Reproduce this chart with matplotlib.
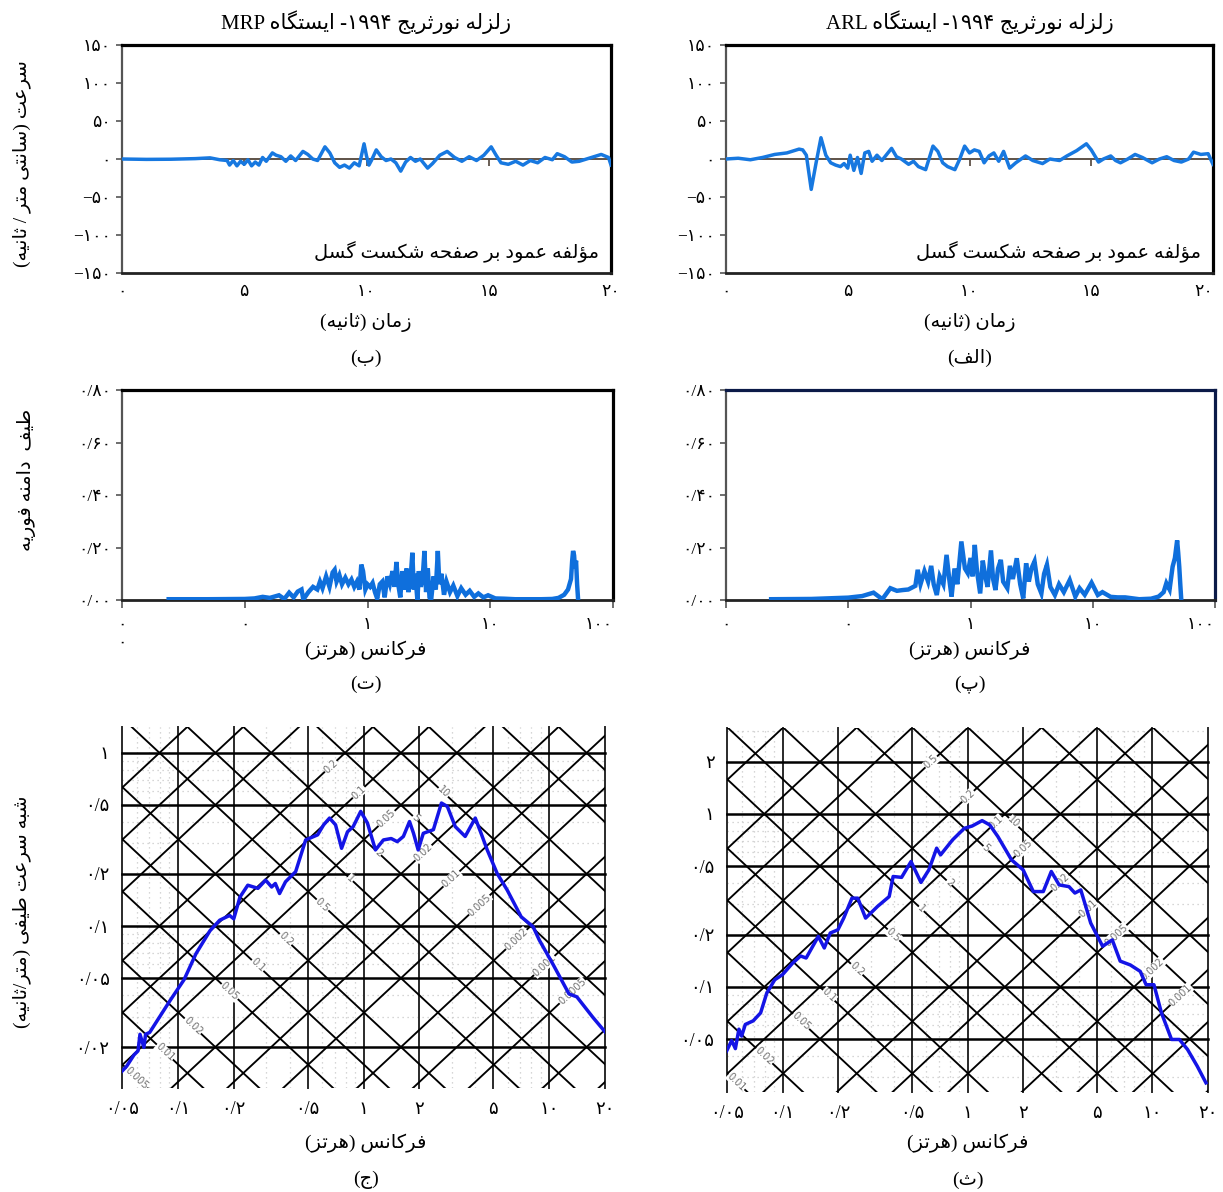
import re
import numpy as np
import matplotlib
matplotlib.use('Agg')
import matplotlib.pyplot as plt
from matplotlib.ticker import NullLocator

# ---------------- data ----------------
vel_t_mrp = [0, 1, 2, 3, 3.6, 4.0, 4.3, 4.4, 4.55, 4.7,
             4.85, 5.0, 5.15, 5.3, 5.45, 5.6, 5.75, 5.9, 6.15, 6.3,
             6.5, 6.7, 6.9, 7.1, 7.4, 7.6, 7.8, 8.0, 8.3, 8.5,
             8.7, 8.9, 9.1, 9.3, 9.5, 9.7, 9.9, 10.0, 10.1, 10.2,
             10.4, 10.6, 10.8, 11.0, 11.2, 11.4, 11.6, 11.8, 12.0, 12.2,
             12.5, 12.7, 13.0, 13.3, 13.6, 13.9, 14.2, 14.5, 14.8, 15.1,
             15.3, 15.5, 15.8, 16.1, 16.4, 16.7, 17.0, 17.3, 17.6, 17.8,
             18.1, 18.4, 18.7, 19.0, 19.3, 19.6, 19.9, 20.0]
vel_v_mrp = [0, -0.5, -0.3, 0.5, 1.5, -1, -2, -8, -2, -9,
             -3, -7, -1, -9, -4, -8, 2, -3, 8, 5,
             3, -3, 4, -2, 10, 6, 0, -2, 16, 8,
             -5, -11, -8, -12, -5, -9, 20, 4, -8, -2,
             12, 3, -2, 0, -5, -16, -4, 2, -3, 0,
             -12, -6, 5, 10, 2, -3, 3, -2, 5, 16,
             5, -5, -7, -3, -8, -2, -5, 2, -1, 7,
             3, -4, -3, 0, 3, 6, 2, -8]

vel_t_arl = [0, 0.5, 1.0, 1.5, 2.0, 2.5, 3.0, 3.15, 3.3, 3.5,
             3.7, 3.9, 4.1, 4.3, 4.5, 4.7, 4.85, 5.0, 5.1, 5.25,
             5.4, 5.55, 5.7, 5.86, 6.0, 6.2, 6.4, 6.6, 6.8, 7.0,
             7.2, 7.5, 7.7, 7.9, 8.2, 8.5, 8.7, 8.9, 9.1, 9.4,
             9.6, 9.8, 10.0, 10.2, 10.4, 10.6, 10.8, 11.0, 11.2, 11.4,
             11.65, 11.9, 12.3, 12.6, 13.0, 13.3, 13.7, 14.0, 14.4, 14.8,
             15.0, 15.3, 15.5, 15.8, 16.0, 16.2, 16.5, 16.8, 17.1, 17.5,
             17.8, 18.1, 18.4, 18.7, 19.0, 19.2, 19.5, 19.8, 20.0]
vel_v_arl = [0, 1, -1, 2, 6, 8, 13, 12, 5, -40,
             -5, 28, 5, -5, -8, -10, -6, -12, 5, -15,
             2, -19, 8, 10, -3, 5, -2, 6, 14, 3,
             0, -7, -3, -10, -14, 17, 10, -5, -10, -14,
             0, 17, 8, 12, 10, -5, 4, 8, -3, 10,
             -12, -5, 4, -2, -6, 0, -2, 4, 11, 20,
             12, -4, 0, 4, -2, -5, 0, 6, 2, -5,
             0, 3, -2, -4, 0, 9, 6, 7, -7]

fas_f_mrp = [0.024, 0.05, 0.1, 0.12, 0.14, 0.16, 0.19, 0.21, 0.23, 0.25,
             0.27, 0.29, 0.30, 0.33, 0.36, 0.39, 0.41, 0.43, 0.46, 0.49,
             0.52, 0.54, 0.56, 0.59, 0.62, 0.66, 0.70, 0.74, 0.78, 0.82,
             0.86, 0.89, 0.92, 0.96, 1.00, 1.05, 1.10, 1.15, 1.20, 1.26,
             1.32, 1.38, 1.45, 1.52, 1.60, 1.66, 1.72, 1.78, 1.85, 1.92,
             2.00, 2.08, 2.15, 2.25, 2.32, 2.38, 2.45, 2.55, 2.62, 2.72,
             2.82, 2.91, 3.00, 3.10, 3.20, 3.30, 3.45, 3.60, 3.74, 3.85,
             4.00, 4.20, 4.40, 4.70, 5.00, 5.40, 5.80, 6.30, 6.80, 7.40,
             8.00, 8.80, 9.60, 11.0, 13.0, 16.0, 20.0, 26.0, 32.0, 36.0,
             40.0, 43.0, 45.5, 46.5, 47.3, 48.2, 49.0, 50.0, 51.0, 52.0]
fas_a_mrp = [0.003, 0.003, 0.004, 0.006, 0.012, 0.008, 0.018, 0.004, 0.028, 0.010,
             0.032, 0.040, 0.002, 0.030, 0.050, 0.040, 0.070, 0.045, 0.090, 0.050,
             0.105, 0.115, 0.070, 0.095, 0.060, 0.085, 0.060, 0.078, 0.050, 0.070,
             0.040, 0.135, 0.110, 0.040, 0.060, 0.050, 0.065, 0.030, 0.005, 0.060,
             0.070, 0.010, 0.090, 0.060, 0.110, 0.050, 0.145, 0.060, 0.010, 0.110,
             0.040, 0.120, 0.030, 0.090, 0.180, 0.040, 0.100, 0.000, 0.110, 0.050,
             0.090, 0.187, 0.030, 0.120, 0.010, 0.000, 0.090, 0.040, 0.187, 0.060,
             0.100, 0.020, 0.070, 0.030, 0.055, 0.015, 0.045, 0.020, 0.035, 0.012,
             0.025, 0.010, 0.018, 0.006, 0.005, 0.003, 0.003, 0.003, 0.004, 0.008,
             0.020, 0.040, 0.080, 0.150, 0.187, 0.170, 0.120, 0.150, 0.060, 0.000]

fas_f_arl = [0.0234, 0.05, 0.1, 0.13, 0.161, 0.19, 0.221, 0.25, 0.28, 0.31,
             0.354, 0.37, 0.39, 0.42, 0.45, 0.477, 0.50, 0.53, 0.56, 0.60,
             0.637, 0.67, 0.70, 0.74, 0.78, 0.842, 0.90, 0.95, 1.00, 1.04,
             1.084, 1.13, 1.20, 1.26, 1.32, 1.38, 1.47, 1.53, 1.60, 1.68,
             1.77, 1.85, 2.00, 2.10, 2.22, 2.39, 2.55, 2.70, 2.85, 3.00,
             3.15, 3.34, 3.55, 3.80, 4.00, 4.22, 4.50, 4.90, 5.30, 5.80,
             6.48, 7.20, 7.80, 8.60, 9.78, 11.0, 12.0, 14.0, 16.0, 18.4,
             24.0, 30.0, 34.6, 38.0, 40.0, 42.5, 45.0, 47.0, 49.0, 50.0,
             51.0, 52.0, 53.0]
fas_a_arl = [0.003, 0.004, 0.009, 0.015, 0.028, 0.003, 0.045, 0.035, 0.038, 0.040,
             0.054, 0.115, 0.060, 0.110, 0.070, 0.130, 0.060, 0.019, 0.090, 0.060,
             0.172, 0.080, 0.013, 0.120, 0.060, 0.223, 0.120, 0.102, 0.160, 0.090,
             0.210, 0.110, 0.025, 0.150, 0.090, 0.050, 0.189, 0.080, 0.038, 0.120,
             0.153, 0.070, 0.045, 0.130, 0.080, 0.159, 0.060, 0.006, 0.140, 0.070,
             0.120, 0.147, 0.060, 0.025, 0.100, 0.134, 0.050, 0.019, 0.060, 0.030,
             0.076, 0.013, 0.045, 0.020, 0.066, 0.019, 0.030, 0.012, 0.010, 0.010,
             0.003, 0.005, 0.013, 0.030, 0.064, 0.040, 0.127, 0.160, 0.227, 0.180,
             0.127, 0.060, 0.000]

psv_f_mrp = [0.050, 0.053, 0.058, 0.061, 0.0625, 0.0656, 0.067, 0.0705, 0.0906, 0.108,
             0.125, 0.149, 0.168, 0.19, 0.20, 0.216, 0.238, 0.27, 0.297, 0.32,
             0.335, 0.353, 0.38, 0.431, 0.488, 0.566, 0.61, 0.656, 0.707, 0.762,
             0.82, 0.88, 0.966, 1.05, 1.16, 1.28, 1.41, 1.52, 1.64, 1.77,
             1.86, 1.97, 2.1, 2.38, 2.63, 2.83, 3.12, 3.53, 4.0, 4.3,
             4.64, 5.25, 5.95, 7.07, 8.2, 8.85, 10.5, 12.8, 14.1, 17.2,
             20.0]
psv_v_mrp = [0.0145, 0.0155, 0.018, 0.019, 0.0237, 0.0199, 0.0237, 0.0243, 0.037, 0.049,
             0.069, 0.094, 0.108, 0.115, 0.110, 0.147, 0.172, 0.165, 0.184, 0.168,
             0.176, 0.154, 0.180, 0.206, 0.314, 0.336, 0.384, 0.420, 0.384, 0.281,
             0.350, 0.375, 0.459, 0.393, 0.275, 0.314, 0.320, 0.307, 0.329, 0.401,
             0.343, 0.275, 0.343, 0.360, 0.513, 0.490, 0.375, 0.329, 0.420, 0.343,
             0.275, 0.201, 0.161, 0.113, 0.099, 0.083, 0.060, 0.0405, 0.039, 0.0297,
             0.0245]

psv_f_arl = [0.0497, 0.053, 0.0555, 0.058, 0.060, 0.0628, 0.0693, 0.076, 0.082, 0.0906,
             0.10, 0.113, 0.125, 0.134, 0.156, 0.168, 0.181, 0.199, 0.214, 0.237,
             0.255, 0.281, 0.326, 0.377, 0.396, 0.44, 0.495, 0.56, 0.618, 0.681,
             0.715, 0.83, 0.961, 1.06, 1.2, 1.32, 1.46, 1.73, 2.0, 2.27,
             2.57, 2.84, 3.13, 3.54, 3.81, 4.1, 4.42, 4.64, 5.38, 6.07,
             6.7, 7.6, 8.6, 9.25, 10.2, 11.2, 12.7, 14.0, 15.5, 17.5,
             19.5]
psv_v_arl = [0.0425, 0.049, 0.044, 0.057, 0.052, 0.0607, 0.0637, 0.0708, 0.092, 0.110,
             0.118, 0.137, 0.151, 0.147, 0.196, 0.168, 0.205, 0.214, 0.250, 0.326,
             0.326, 0.250, 0.292, 0.333, 0.435, 0.43, 0.531, 0.402, 0.475, 0.634,
             0.580, 0.708, 0.826, 0.852, 0.915, 0.864, 0.740, 0.543, 0.475, 0.356,
             0.356, 0.465, 0.389, 0.380, 0.349, 0.364, 0.279, 0.234, 0.172, 0.187,
             0.141, 0.134, 0.123, 0.103, 0.103, 0.0708, 0.0497, 0.0497, 0.0435, 0.0348,
             0.0279]

vel_yticks = [-150, -100, -50, 0, 50, 100, 150]
vel_yticklabels = ['−۱۵۰', '−۱۰۰', '−۵۰', '۰', '۵۰', '۱۰۰', '۱۵۰']
vel_xticks = [0, 5, 10, 15, 20]
vel_xticklabels = ['۰', '۵', '۱۰', '۱۵', '۲۰']
fas_yticks = [0, 0.2, 0.4, 0.6, 0.8]
fas_yticklabels = ['۰/۰۰', '۰/۲۰', '۰/۴۰', '۰/۶۰', '۰/۸۰']
fas_xticks = [0.01, 0.1, 1, 10, 100]
fas_xticklabels_mrp = ['۰\n۰', '۰', '۱', '۱۰', '۱۰۰']
fas_xticklabels_arl = ['۰', '۰', '۱', '۱۰', '۱۰۰']
psv_xticks = [0.05, 0.1, 0.2, 0.5, 1, 2, 5, 10, 20]
psv_xticklabels = ['۰/۰۵', '۰/۱', '۰/۲', '۰/۵', '۱', '۲', '۵', '۱۰', '۲۰']
psv_yticks_mrp = [0.02, 0.05, 0.1, 0.2, 0.5, 1]
psv_yticklabels_mrp = ['۰/۰۲', '۰/۰۵', '۰/۱', '۰/۲', '۰/۵', '۱']
psv_yticks_arl = [0.05, 0.1, 0.2, 0.5, 1, 2]
psv_yticklabels_arl = ['۰/۰۵', '۰/۱', '۰/۲', '۰/۵', '۱', '۲']
diag_label_values_A = [0.005, 0.01, 0.02, 0.05, 0.1, 0.2, 0.5, 1, 2, 5, 10]
diag_label_values_D = [0.0005, 0.001, 0.002, 0.005, 0.01, 0.02, 0.05, 0.1, 0.2, 0.5, 1]

title_mrp = 'زلزله نورثریج ۱۹۹۴- ایستگاه MRP'
title_arl = 'زلزله نورثریج ۱۹۹۴- ایستگاه ARL'
vel_ylabel = 'سرعت (سانتی متر / ثانیه)'
vel_xlabel = 'زمان (ثانیه)'
vel_note = 'مؤلفه عمود بر صفحه شکست گسل'
fas_ylabel = 'طیف  دامنه فوریه'
freq_xlabel = 'فرکانس (هرتز)'
psv_ylabel = 'شبه سرعت طیفی (متر/ثانیه)'
panel_labels = ['(ب)', '(الف)', '(ت)', '(پ)', '(ج)', '(ث)']

# ---------------- Persian shaping (visual order) ----------------
FORMS = {
    '\u0627': ('\uFE8D', '\uFE8E', None, None),
    '\u0624': ('\uFE85', '\uFE86', None, None),
    '\u0628': ('\uFE8F', '\uFE90', '\uFE91', '\uFE92'),
    '\u067E': ('\uFB56', '\uFB57', '\uFB58', '\uFB59'),
    '\u062A': ('\uFE95', '\uFE96', '\uFE97', '\uFE98'),
    '\u062B': ('\uFE99', '\uFE9A', '\uFE9B', '\uFE9C'),
    '\u062C': ('\uFE9D', '\uFE9E', '\uFE9F', '\uFEA0'),
    '\u062D': ('\uFEA1', '\uFEA2', '\uFEA3', '\uFEA4'),
    '\u062F': ('\uFEA9', '\uFEAA', None, None),
    '\u0631': ('\uFEAD', '\uFEAE', None, None),
    '\u0632': ('\uFEAF', '\uFEB0', None, None),
    '\u0698': ('\uFB8A', '\uFB8B', None, None),
    '\u0633': ('\uFEB1', '\uFEB2', '\uFEB3', '\uFEB4'),
    '\u0634': ('\uFEB5', '\uFEB6', '\uFEB7', '\uFEB8'),
    '\u0635': ('\uFEB9', '\uFEBA', '\uFEBB', '\uFEBC'),
    '\u0637': ('\uFEC1', '\uFEC2', '\uFEC3', '\uFEC4'),
    '\u0639': ('\uFEC9', '\uFECA', '\uFECB', '\uFECC'),
    '\u0641': ('\uFED1', '\uFED2', '\uFED3', '\uFED4'),
    '\u06A9': ('\uFB8E', '\uFB8F', '\uFB90', '\uFB91'),
    '\u06AF': ('\uFB92', '\uFB93', '\uFB94', '\uFB95'),
    '\u0644': ('\uFEDD', '\uFEDE', '\uFEDF', '\uFEE0'),
    '\u0645': ('\uFEE1', '\uFEE2', '\uFEE3', '\uFEE4'),
    '\u0646': ('\uFEE5', '\uFEE6', '\uFEE7', '\uFEE8'),
    '\u0647': ('\uFEE9', '\uFEEA', '\uFEEB', '\uFEEC'),
    '\u0648': ('\uFEED', '\uFEEE', None, None),
    '\u06CC': ('\uFBFC', '\uFBFD', '\uFBFE', '\uFBFF'),
}


def shape_word(w):
    out = []
    for i, c in enumerate(w):
        f = FORMS.get(c)
        if f is None:
            out.append(c)
            continue
        prev = w[i - 1] if i > 0 else None
        nxt = w[i + 1] if i + 1 < len(w) else None
        jp = prev is not None and prev in FORMS and FORMS[prev][2] is not None
        jn = nxt is not None and nxt in FORMS and f[2] is not None
        if jp and jn:
            out.append(f[3])
        elif jp:
            out.append(f[1])
        elif jn:
            out.append(f[2])
        else:
            out.append(f[0])
    return ''.join(out)


_AR = '\u0621-\u064A\u067E\u0686\u0698\u06A9\u06AF\u06CC'
TOKEN = re.compile('([' + _AR + ']+)|([0-9A-Za-z\u06F0-\u06F9.]+)|(.)', re.S)


def fa(s):
    s = s.replace('\u064A', '\u06CC').replace('\u0643', '\u06A9')
    toks = []
    for m in TOKEN.finditer(s):
        if m.group(1):
            toks.append(shape_word(m.group(1))[::-1])
        elif m.group(2):
            toks.append(m.group(2))
        else:
            c = m.group(3)
            toks.append({'(': ')', ')': '('}.get(c, c))
    return ''.join(reversed(toks))


# ---------------- figure ----------------
plt.rcParams['font.family'] = ['Liberation Serif', 'DejaVu Sans']
plt.rcParams['axes.unicode_minus'] = True
W, H = 1223, 1192
fig = plt.figure(figsize=(W / 100, H / 100), dpi=100)
fig.patch.set_facecolor('white')


def pos(l, t, r, b):
    return [l / W, 1 - b / H, (r - l) / W, (b - t) / H]


def ftext(x, y, s, **kw):
    kw.setdefault('fontsize', 14)
    kw.setdefault('ha', 'center')
    kw.setdefault('va', 'center')
    fig.text(x / W, 1 - y / H, s, **kw)


TICK_FS = 12.5
VEL_C = '#1778e0'
FAS_C = '#0f6fdc'
PSV_C = '#1414e6'


def style_box(ax, frame_color='black'):
    ax.spines['top'].set_linewidth(2.3)
    ax.spines['right'].set_linewidth(2.3)
    ax.spines['top'].set_color(frame_color)
    ax.spines['right'].set_color(frame_color)
    ax.spines['left'].set_linewidth(1.6)
    ax.spines['left'].set_color('#555555')
    ax.spines['bottom'].set_linewidth(2.0)
    ax.spines['bottom'].set_color('#222222')
    ax.tick_params(axis='both', direction='out', length=4, width=1.2, colors='#555555',
                   labelcolor='black', labelsize=TICK_FS, pad=4)


def velocity(ax, t, v, last_right=False):
    ax.set_xlim(0, 20)
    ax.set_ylim(-150, 150)
    ax.axhline(0, color='#5e5248', lw=1.4, zorder=1)
    ax.vlines(vel_xticks[1:-1], -9, 0, color='#5e5248', lw=1.3, zorder=1)
    ax.plot(t, v, color=VEL_C, lw=2.5, zorder=3, solid_joinstyle='round')
    ax.set_yticks(vel_yticks)
    ax.set_yticklabels(vel_yticklabels)
    ax.set_xticks(vel_xticks)
    ax.set_xticklabels(vel_xticklabels)
    style_box(ax)
    ax.tick_params(axis='x', length=0, pad=8)
    if last_right:
        ax.get_xticklabels()[-1].set_ha('right')
    ax.text(0.975, 0.09, fa(vel_note), transform=ax.transAxes, ha='right', va='center',
            fontsize=14)


def fourier(ax, f, a, xlabels, frame_color):
    ax.set_xscale('log')
    ax.set_xlim(0.01, 100)
    ax.set_ylim(0, 0.8)
    ax.plot(f, a, color=FAS_C, lw=3.2, zorder=3, solid_joinstyle='miter')
    ax.set_yticks(fas_yticks)
    ax.set_yticklabels(fas_yticklabels)
    ax.set_xticks(fas_xticks)
    ax.set_xticklabels(xlabels)
    ax.xaxis.set_minor_locator(NullLocator())
    style_box(ax, frame_color)
    ax.tick_params(axis='x', length=6, pad=6)
    ax.get_xticklabels()[-1].set_ha('right')


def tripartite(ax, f, v, ylim, yticks, ylabels, D0, A0):
    ax.set_xscale('log')
    ax.set_yscale('log')
    ax.set_xlim(0.05, 20)
    ax.set_ylim(*ylim)
    for s in ax.spines.values():
        s.set_visible(False)
    # faint stipple-like minor grid
    minors = [m * 10.0 ** k for k in range(-3, 2) for m in range(2, 10)]
    for x in minors:
        if 0.05 < x < 20 and not np.any(np.isclose(x, psv_xticks)):
            ax.axvline(x, color='#c9c9c9', lw=0.9, ls=(0, (1, 3)), zorder=0)
        if ylim[0] < x < ylim[1] and not np.any(np.isclose(x, yticks)):
            ax.axhline(x, color='#c9c9c9', lw=0.9, ls=(0, (1, 3)), zorder=0)
    for x in psv_xticks:
        ax.axvline(x, color='#2a2a2a', lw=1.4, zorder=1, clip_on=False)
    for y in yticks:
        ax.axhline(y, color='black', lw=1.8, zorder=1, clip_on=False)
    ff = np.logspace(np.log10(0.02), np.log10(60), 40)
    for k in range(-6, 4):
        for m in (1, 2, 5):
            val = m * 10.0 ** k
            ax.plot(ff, 2 * np.pi * ff * val, color='black', lw=1.35, zorder=1)
            ax.plot(ff, val / (2 * np.pi * ff), color='black', lw=1.35, zorder=1)
    # diagonal value labels
    x0, x1 = np.log10(0.05), np.log10(20)
    y0, y1 = np.log10(ylim[0]), np.log10(ylim[1])
    bb = ax.get_position()
    px_dec_x = bb.width * W / (x1 - x0)
    px_dec_y = bb.height * H / (y1 - y0)
    ang = np.degrees(np.arctan(px_dec_y / px_dec_x))
    for A in diag_label_values_A:
        fx = np.sqrt(A / D0) / (2 * np.pi)
        vy = np.sqrt(A * D0)
        if 0.055 < fx < 18 and ylim[0] * 1.1 < vy < ylim[1] * 0.9:
            ax.text(fx, vy, f'{A:g}', rotation=-ang, ha='center', va='center',
                    fontsize=7, color='#707070', family='DejaVu Sans', zorder=2,
                    bbox=dict(fc='white', ec='none', pad=0.2))
    for D in diag_label_values_D:
        fx = np.sqrt(A0 / D) / (2 * np.pi)
        vy = np.sqrt(A0 * D)
        if 0.055 < fx < 18 and ylim[0] * 1.1 < vy < ylim[1] * 0.9:
            ax.text(fx, vy, f'{D:g}', rotation=ang, ha='center', va='center',
                    fontsize=7, color='#707070', family='DejaVu Sans', zorder=2,
                    bbox=dict(fc='white', ec='none', pad=0.2))
    ax.plot(f, v, color=PSV_C, lw=2.5, zorder=4, solid_joinstyle='round')
    ax.set_xticks(psv_xticks)
    ax.set_xticklabels(psv_xticklabels)
    ax.set_yticks(yticks)
    ax.set_yticklabels(ylabels)
    ax.xaxis.set_minor_locator(NullLocator())
    ax.yaxis.set_minor_locator(NullLocator())
    ax.tick_params(axis='both', length=0, labelsize=13, pad=9)


# velocity panels
ax1 = fig.add_axes(pos(122, 45, 611, 273))
velocity(ax1, vel_t_mrp, vel_v_mrp)
ax2 = fig.add_axes(pos(726, 45, 1213, 273))
velocity(ax2, vel_t_arl, vel_v_arl, last_right=True)

# Fourier panels
ax3 = fig.add_axes(pos(122, 390, 613, 600))
fourier(ax3, fas_f_mrp, fas_a_mrp, fas_xticklabels_mrp, 'black')
ax4 = fig.add_axes(pos(726, 390, 1215, 600))
fourier(ax4, fas_f_arl, fas_a_arl, fas_xticklabels_arl, '#0b1a48')

# tripartite panels
ax5 = fig.add_axes(pos(122, 727, 605, 1088))
tripartite(ax5, psv_f_mrp, psv_v_mrp, (0.0116, 1.41), psv_yticks_mrp, psv_yticklabels_mrp,
           0.035, 3.5)
ax6 = fig.add_axes(pos(727, 728, 1208, 1092))
tripartite(ax6, psv_f_arl, psv_v_arl, (0.0247, 3.14), psv_yticks_arl, psv_yticklabels_arl,
           0.08, 8.0)

# texts
ftext(366, 22, fa(title_mrp), fontsize=15)
ftext(970, 22, fa(title_arl), fontsize=15)
ftext(366, 322, fa(vel_xlabel))
ftext(970, 322, fa(vel_xlabel))
ftext(366, 358, fa(panel_labels[0]))
ftext(970, 358, fa(panel_labels[1]))
ftext(366, 650, fa(freq_xlabel))
ftext(970, 650, fa(freq_xlabel))
ftext(366, 684, fa(panel_labels[2]))
ftext(970, 684, fa(panel_labels[3]))
ftext(366, 1143, fa(freq_xlabel))
ftext(968, 1143, fa(freq_xlabel))
ftext(366, 1180, fa(panel_labels[4]))
ftext(968, 1180, fa(panel_labels[5]))
ftext(22, 164, fa(vel_ylabel), rotation=90)
ftext(26, 480, fa(fas_ylabel), rotation=90)
ftext(22, 912, fa(psv_ylabel), rotation=90)

fig.savefig('out.png', dpi=100, facecolor='white')
